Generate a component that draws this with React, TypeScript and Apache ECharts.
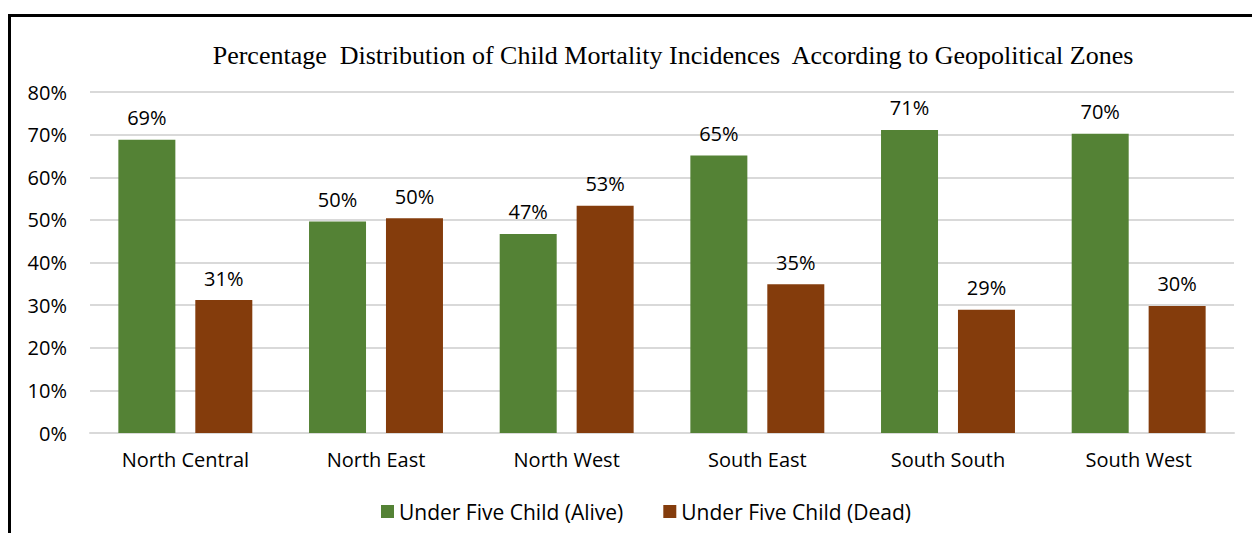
import React, { useEffect, useRef } from "react";
import * as echarts from "echarts";

const categories = ["North Central", "North East", "North West", "South East", "South South", "South West"];
const aliveValues = [68.8, 49.6, 46.7, 65.1, 71.1, 70.2];
const deadValues = [31.2, 50.4, 53.3, 34.9, 28.9, 29.8];
const seriesNames = ["Under Five Child (Alive)", "Under Five Child (Dead)"];
const titleText = "Percentage  Distribution of Child Mortality Incidences  According to Geopolitical Zones";

const FONT = "'Open Sans', sans-serif";

export default function App() {
  const ref = useRef<HTMLDivElement>(null);
  useEffect(() => {
    if (!ref.current) return;
    const chart = echarts.init(ref.current, undefined, { renderer: "svg" });
    const label = {
      show: true,
      position: "top",
      distance: 12,
      fontFamily: FONT,
      fontSize: 20,
      color: "#000",
      formatter: (p: any) => Math.round(p.value) + "%",
    };
    chart.setOption({
      animation: false,
      backgroundColor: "#fff",
      title: {
        text: titleText,
        left: 668,
        top: 37,
        textAlign: "center",
        textStyle: { fontFamily: "'Liberation Serif', serif", fontSize: 26, fontWeight: "normal", color: "#000" },
      },
      graphic: [
        {
          type: "rect",
          shape: { x: 9.5, y: 15.5, width: 1300, height: 600 },
          style: { fill: "none", stroke: "#000", lineWidth: 3 },
          silent: true,
        },
      ],
      legend: {
        data: seriesNames,
        left: 376,
        top: 496,
        itemWidth: 13,
        itemHeight: 13,
        itemGap: 40,
        icon: "rect",
        textStyle: { fontFamily: FONT, fontSize: 21, color: "#000" },
      },
      grid: { left: 90, right: 18, top: 92, bottom: 100 },
      xAxis: {
        type: "category",
        data: categories,
        axisTick: { show: false },
        axisLine: { show: true, lineStyle: { color: "#d9d9d9", width: 2 } },
        axisLabel: { fontFamily: FONT, fontSize: 20, color: "#000", margin: 16 },
      },
      yAxis: {
        type: "value",
        min: 0,
        max: 80,
        interval: 10,
        axisLine: { show: false },
        axisTick: { show: false },
        splitLine: { lineStyle: { color: "#d9d9d9", width: 2 } },
        axisLabel: { fontFamily: FONT, fontSize: 20, color: "#000", margin: 23, formatter: "{value}%" },
      },
      series: [
        {
          name: seriesNames[0],
          type: "bar",
          data: aliveValues,
          barWidth: 57,
          barGap: "35%",
          itemStyle: { color: "#548235" },
          label,
        },
        {
          name: seriesNames[1],
          type: "bar",
          data: deadValues,
          barWidth: 57,
          itemStyle: { color: "#843c0c" },
          label,
        },
      ],
    });
    return () => chart.dispose();
  }, []);
  return (
    <div
      ref={ref}
      style={{ position: "absolute", left: 0, top: 0, width: 1252, height: 533 }}
    />
  );
}
